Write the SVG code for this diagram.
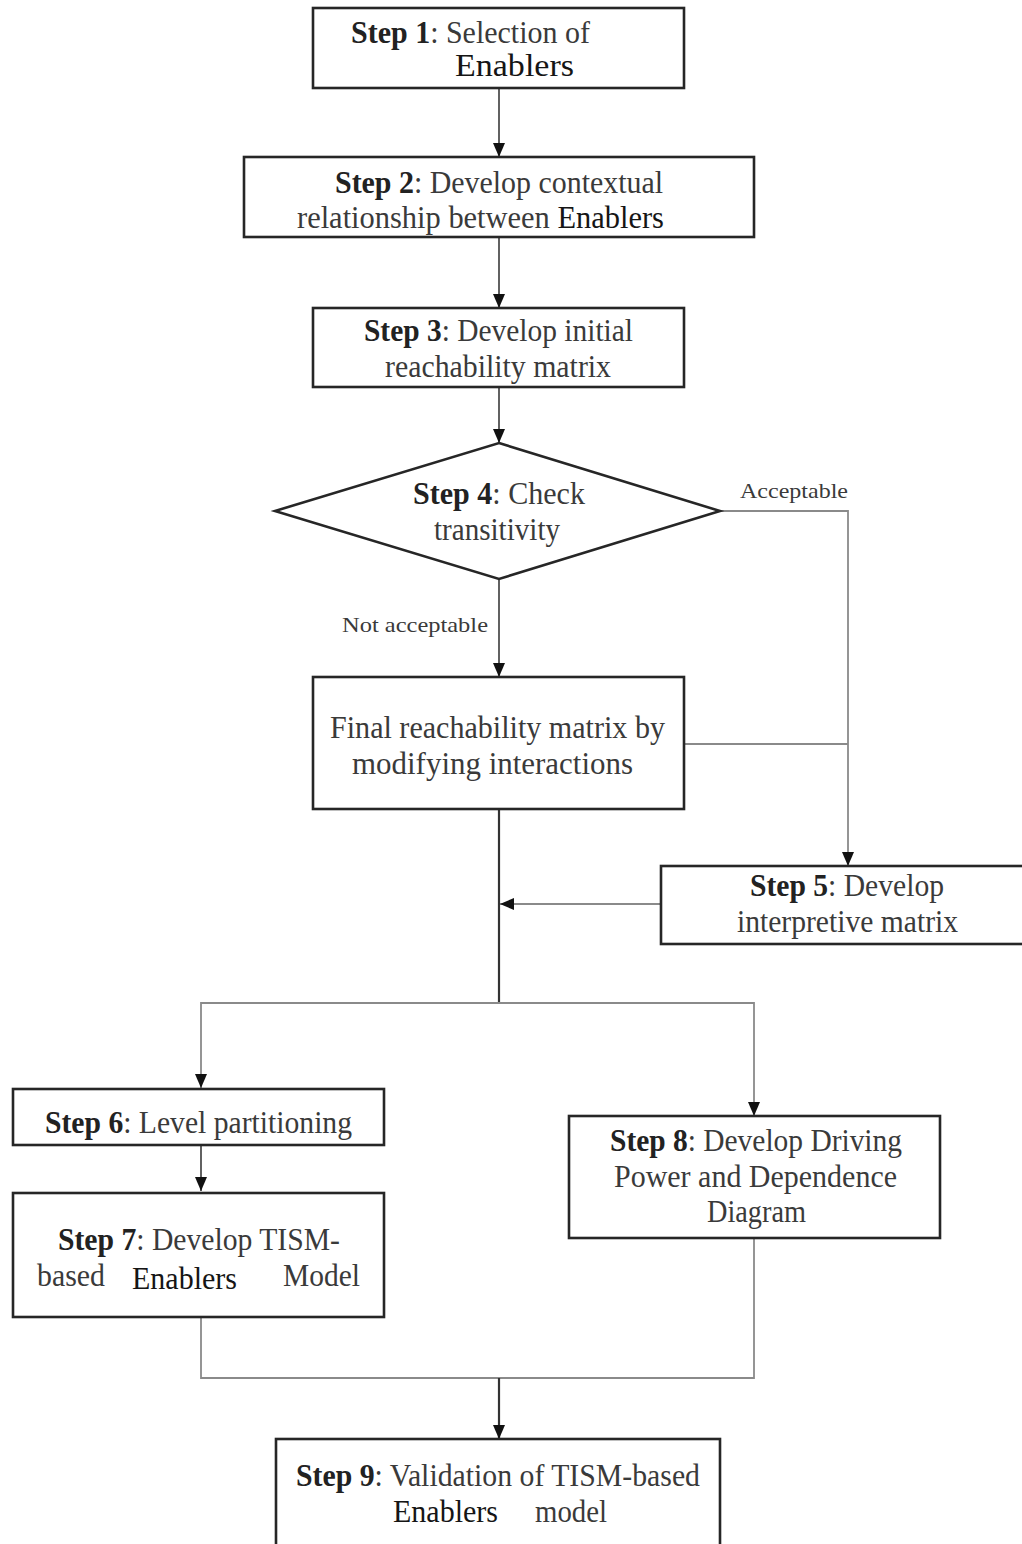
<svg xmlns="http://www.w3.org/2000/svg" width="1022" height="1544" viewBox="0 0 1022 1544">
<defs>
<style>
.box{fill:#fff;stroke:#262626;stroke-width:2.6}
.t{font-family:"Liberation Serif","Times New Roman",serif;font-size:31px;fill:#3a3a3a}
.b{font-weight:bold;fill:#222}
.en{fill:#151515}
.lbl{font-family:"Liberation Serif","Times New Roman",serif;font-size:22px;fill:#3a3a3a}
.c{fill:none;stroke:#3a3a3a;stroke-width:1.6}
.g{fill:none;stroke:#8a8a8a;stroke-width:1.8}
.d{fill:none;stroke:#333;stroke-width:2.2}
</style>
<marker id="ah" viewBox="0 0 14 12" markerWidth="14" markerHeight="12" refX="14" refY="6" orient="auto" markerUnits="userSpaceOnUse">
<path d="M0,0 L14,6 L0,12 z" fill="#111"/>
</marker>
</defs>
<rect width="1022" height="1544" fill="#fff"/>

<g id="connectors">
<path class="c" d="M499,88 V157" marker-end="url(#ah)"/>
<path class="c" d="M499,237 V308" marker-end="url(#ah)"/>
<path class="c" d="M499,387 V443" marker-end="url(#ah)"/>
<path class="g" d="M720,511 H848 V866" marker-end="url(#ah)"/>
<path class="c" d="M499,579 V677" marker-end="url(#ah)"/>
<path class="g" d="M684,744 H848"/>
<path class="d" d="M499,809 V1003"/>
<path class="g" d="M661,904 H500" marker-end="url(#ah)"/>
<path class="g" d="M499,1003 H201 V1088" marker-end="url(#ah)"/>
<path class="g" d="M499,1003 H754 V1116" marker-end="url(#ah)"/>
<path class="c" d="M201,1145 V1191" marker-end="url(#ah)"/>
<path class="g" d="M201,1317 V1378 H754 V1238"/>
<path class="d" d="M499,1378 V1439" marker-end="url(#ah)"/>
</g>

<g id="step1">
<rect class="box" x="313" y="8" width="371" height="80"/>
<text class="t" x="351" y="43" textLength="239" lengthAdjust="spacingAndGlyphs"><tspan class="b">Step 1</tspan>: Selection of</text>
<text class="t en" x="455" y="76" textLength="119" lengthAdjust="spacingAndGlyphs">Enablers</text>
</g>

<g id="step2">
<rect class="box" x="244" y="157" width="510" height="80"/>
<text class="t" x="335" y="193" textLength="328" lengthAdjust="spacingAndGlyphs"><tspan class="b">Step 2</tspan>: Develop contextual</text>
<text class="t" x="297" y="228" textLength="367" lengthAdjust="spacingAndGlyphs">relationship between <tspan class="en">Enablers</tspan></text>
</g>

<g id="step3">
<rect class="box" x="313" y="308" width="371" height="79"/>
<text class="t" x="364" y="341" textLength="269" lengthAdjust="spacingAndGlyphs"><tspan class="b">Step 3</tspan>: Develop initial</text>
<text class="t" x="385" y="377" textLength="226" lengthAdjust="spacingAndGlyphs">reachability matrix</text>
</g>

<g id="step4">
<polygon class="box" points="499,443 720,511 499,579 275,511"/>
<text class="t" x="413" y="504" textLength="172" lengthAdjust="spacingAndGlyphs"><tspan class="b">Step 4</tspan>: Check</text>
<text class="t" x="434" y="540" textLength="126" lengthAdjust="spacingAndGlyphs">transitivity</text>
</g>

<g id="labels">
<text class="lbl" x="740" y="498" textLength="108" lengthAdjust="spacingAndGlyphs">Acceptable</text>
<text class="lbl" x="342" y="632" textLength="146" lengthAdjust="spacingAndGlyphs">Not acceptable</text>
</g>

<g id="final">
<rect class="box" x="313" y="677" width="371" height="132"/>
<text class="t" x="330" y="738" textLength="335" lengthAdjust="spacingAndGlyphs">Final reachability matrix by</text>
<text class="t" x="352" y="774" textLength="281" lengthAdjust="spacingAndGlyphs">modifying interactions</text>
</g>

<g id="step5">
<rect class="box" x="661" y="866" width="370" height="78"/>
<text class="t" x="750" y="896" textLength="194" lengthAdjust="spacingAndGlyphs"><tspan class="b">Step 5</tspan>: Develop</text>
<text class="t" x="737" y="932" textLength="221" lengthAdjust="spacingAndGlyphs">interpretive matrix</text>
</g>

<g id="step6">
<rect class="box" x="13" y="1089" width="371" height="56"/>
<text class="t" x="45" y="1133" textLength="307" lengthAdjust="spacingAndGlyphs"><tspan class="b">Step 6</tspan>: Level partitioning</text>
</g>

<g id="step7">
<rect class="box" x="13" y="1193" width="371" height="124"/>
<text class="t" x="58" y="1250" textLength="282" lengthAdjust="spacingAndGlyphs"><tspan class="b">Step 7</tspan>: Develop TISM-</text>
<text class="t" x="37" y="1286" textLength="68" lengthAdjust="spacingAndGlyphs">based</text>
<text class="t en" x="132" y="1289" textLength="105" lengthAdjust="spacingAndGlyphs">Enablers</text>
<text class="t" x="283" y="1286" textLength="77" lengthAdjust="spacingAndGlyphs">Model</text>
</g>

<g id="step8">
<rect class="box" x="569" y="1116" width="371" height="122"/>
<text class="t" x="610" y="1151" textLength="292" lengthAdjust="spacingAndGlyphs"><tspan class="b">Step 8</tspan>: Develop Driving</text>
<text class="t" x="614" y="1187" textLength="283" lengthAdjust="spacingAndGlyphs">Power and Dependence</text>
<text class="t" x="707" y="1222" textLength="99" lengthAdjust="spacingAndGlyphs">Diagram</text>
</g>

<g id="step9">
<rect class="box" x="276" y="1439" width="444" height="120"/>
<text class="t" x="296" y="1486" textLength="404" lengthAdjust="spacingAndGlyphs"><tspan class="b">Step 9</tspan>: Validation of TISM-based</text>
<text class="t en" x="393" y="1522" textLength="105" lengthAdjust="spacingAndGlyphs">Enablers</text>
<text class="t" x="535" y="1522" textLength="72" lengthAdjust="spacingAndGlyphs">model</text>
</g>
</svg>
